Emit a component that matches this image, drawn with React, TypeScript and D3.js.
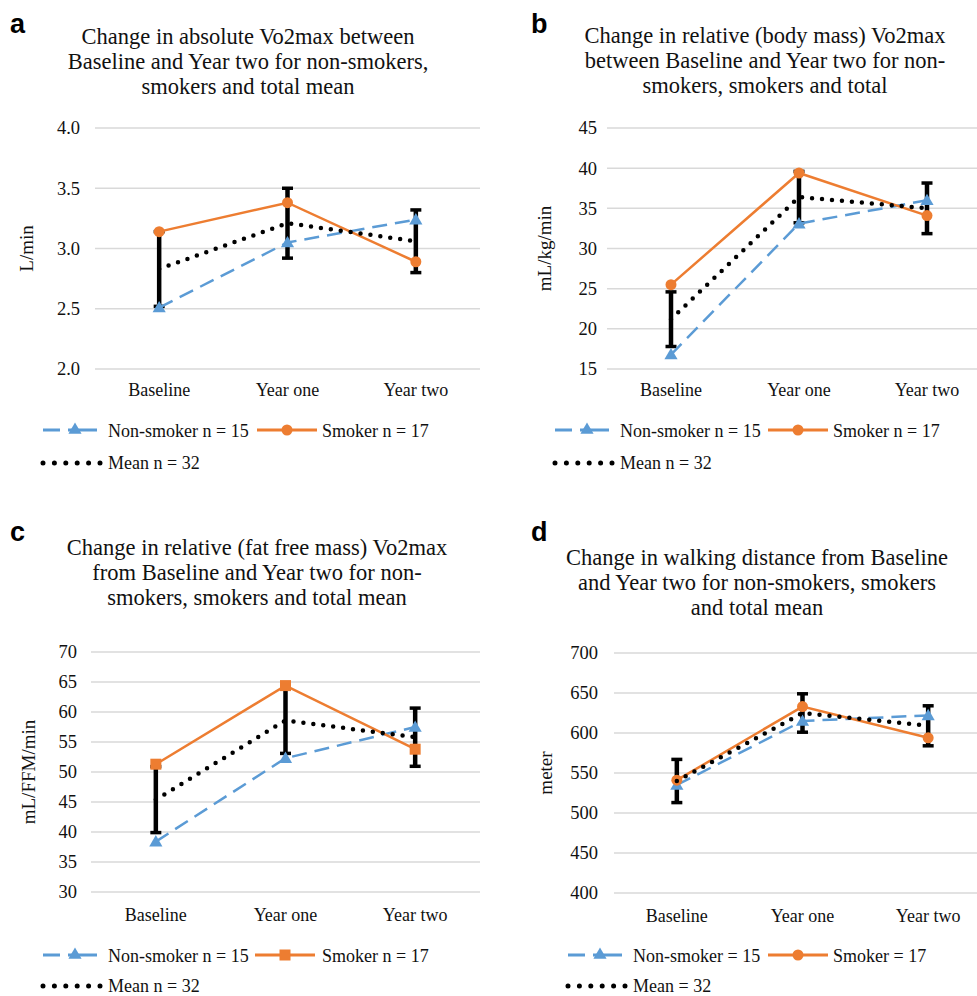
import React, { useEffect } from 'react';
import * as d3 from 'd3';

const categories = ['Baseline', 'Year one', 'Year two'];

// a: absolute Vo2max (L/min)
const absNonSmoker = [2.51, 3.05, 3.24];
const absSmoker = [3.14, 3.38, 2.89];
const absMean = [2.83, 3.21, 3.06];
const absErr = [0.31, 0.29, 0.26];

// b: relative (body mass) Vo2max (mL/kg/min)
const bmNonSmoker = [16.8, 33.1, 36.0];
const bmSmoker = [25.5, 39.4, 34.1];
const bmMean = [21.2, 36.4, 35.0];
const bmErr = [3.4, 3.2, 3.15];

// c: relative (fat free mass) Vo2max (mL/FFM/min)
const ffmNonSmoker = [38.4, 52.3, 57.5];
const ffmSmoker = [51.3, 64.4, 53.8];
const ffmMean = [45.4, 58.6, 55.8];
const ffmErr = [5.5, 5.5, 4.85];

// d: walking distance (meter)
const walkNonSmoker = [535, 615, 622];
const walkSmoker = [541, 633, 594];
const walkMean = [540, 625, 609];
const walkErr = [27, 24, 25];

const BLUE = '#5B9BD5';
const ORANGE = '#ED7D31';
const GRID = '#D9D9D9';
const SERIF = '"Liberation Serif", "Times New Roman", serif';

const panels = [
  {
    letter: 'a', lx: 10, ly: 33,
    title: ['Change in absolute Vo2max between', 'Baseline and Year two  for non-smokers,', 'smokers and total mean'],
    tx: 248, ty: 44,
    x0: 95, x1: 480, yTop: 128, yBot: 369, domain: [2, 4], step: 0.5, fmt: '.1f', tickRight: 80,
    yTitle: 'L/min', yTitleX: 33,
    catY: 396, legY: 430, legY2: 463, sym1: 43, txt1: 108, sym2: 257, txt2: 322,
    names: ['Non-smoker n = 15', 'Smoker n = 17', 'Mean n = 32'], square: false,
    non: absNonSmoker, smk: absSmoker, mean: absMean, err: absErr,
  },
  {
    letter: 'b', lx: 531, ly: 33,
    title: ['Change in relative (body mass) Vo2max', 'between Baseline and Year two for non-', 'smokers, smokers and total'],
    tx: 765, ty: 43,
    x0: 607, x1: 991, yTop: 128, yBot: 369, domain: [15, 45], step: 5, fmt: 'd', tickRight: 597,
    yTitle: 'mL/kg/min', yTitleX: 551,
    catY: 396, legY: 430, legY2: 463, sym1: 555, txt1: 620, sym2: 768, txt2: 833,
    names: ['Non-smoker n = 15', 'Smoker n = 17', 'Mean n = 32'], square: false,
    non: bmNonSmoker, smk: bmSmoker, mean: bmMean, err: bmErr,
  },
  {
    letter: 'c', lx: 10, ly: 541,
    title: ['Change in relative (fat free mass) Vo2max', 'from Baseline and Year two for non-', 'smokers, smokers and total mean'],
    tx: 257, ty: 555,
    x0: 91, x1: 480, yTop: 652, yBot: 892, domain: [30, 70], step: 5, fmt: 'd', tickRight: 77,
    yTitle: 'mL/FFM/min', yTitleX: 35,
    catY: 921, legY: 955, legY2: 986, sym1: 43, txt1: 108, sym2: 255, txt2: 322,
    names: ['Non-smoker n = 15', 'Smoker n = 17', 'Mean n = 32'], square: true,
    non: ffmNonSmoker, smk: ffmSmoker, mean: ffmMean, err: ffmErr,
  },
  {
    letter: 'd', lx: 531, ly: 541,
    title: ['Change in walking distance from Baseline', 'and Year two for non-smokers, smokers', 'and total mean'],
    tx: 757, ty: 565,
    x0: 614, x1: 991, yTop: 653, yBot: 893, domain: [400, 700], step: 50, fmt: 'd', tickRight: 598,
    yTitle: 'meter', yTitleX: 552,
    catY: 922, legY: 955, legY2: 986, sym1: 568, txt1: 633, sym2: 768, txt2: 833,
    names: ['Non-smoker = 15', 'Smoker = 17', 'Mean = 32'], square: false,
    non: walkNonSmoker, smk: walkSmoker, mean: walkMean, err: walkErr,
  },
];

const triangle = d3.symbol(d3.symbolTriangle, 75)();
const square = d3.symbol(d3.symbolSquare, 121)();

function Panel({ p }) {
  const x = d3.scaleBand().domain(categories).range([p.x0, p.x1]);
  const cx = (c) => x(c) + x.bandwidth() / 2;
  const y = d3.scaleLinear().domain(p.domain).range([p.yBot, p.yTop]);
  const ticks = d3.range(p.domain[0], p.domain[1] + p.step / 2, p.step);
  const fmt = d3.format(p.fmt);
  const line = d3.line().x((d, i) => cx(categories[i])).y((d) => y(d));

  const smokerMarker = (px, py, key) =>
    p.square ? (
      <path key={key} d={square} transform={`translate(${px},${py})`} fill={ORANGE} />
    ) : (
      <circle key={key} cx={px} cy={py} r={5.5} fill={ORANGE} />
    );

  return (
    <g>
      <text x={p.lx} y={p.ly} fontFamily='"Liberation Sans", Arial, sans-serif' fontWeight="bold" fontSize={27}>
        {p.letter}
      </text>
      {p.title.map((t, i) => (
        <text key={i} x={p.tx} y={p.ty + i * 25} textAnchor="middle" fontFamily={SERIF} fontSize={22.5} fill="#111">
          {t}
        </text>
      ))}

      {ticks.map((t) => (
        <g key={t}>
          <line x1={p.x0} x2={p.x1} y1={y(t)} y2={y(t)} stroke={GRID} strokeWidth={1.5} />
          <text x={p.tickRight} y={y(t)} dy="0.35em" textAnchor="end" fontFamily={SERIF} fontSize={18.5} fill="#111">
            {fmt(t)}
          </text>
        </g>
      ))}

      <text
        transform={`translate(${p.yTitleX},${(p.yTop + p.yBot) / 2}) rotate(-90)`}
        textAnchor="middle" fontFamily={SERIF} fontSize={19} fill="#111"
      >
        {p.yTitle}
      </text>

      {categories.map((c) => (
        <text key={c} x={cx(c)} y={p.catY} textAnchor="middle" fontFamily={SERIF} fontSize={18} fill="#111">
          {c}
        </text>
      ))}

      {/* error bars on the mean */}
      {p.mean.map((m, i) => {
        const px = cx(categories[i]);
        const top = y(m + p.err[i]);
        const bot = y(m - p.err[i]);
        return (
          <g key={i} stroke="#000">
            <line x1={px} x2={px} y1={top} y2={bot} strokeWidth={4.5} />
            <line x1={px - 5.5} x2={px + 5.5} y1={top} y2={top} strokeWidth={3.5} />
            <line x1={px - 5.5} x2={px + 5.5} y1={bot} y2={bot} strokeWidth={3.5} />
          </g>
        );
      })}

      <path d={line(p.non)} fill="none" stroke={BLUE} strokeWidth={2.5} strokeDasharray="15 8" />
      {p.non.map((v, i) => (
        <path key={i} d={triangle} transform={`translate(${cx(categories[i])},${y(v) + 1})`} fill={BLUE} />
      ))}

      <path d={line(p.smk)} fill="none" stroke={ORANGE} strokeWidth={2.5} />
      {p.smk.map((v, i) => smokerMarker(cx(categories[i]), y(v), i))}

      <path d={line(p.mean)} fill="none" stroke="#000" strokeWidth={4.5} strokeDasharray="0 10" strokeLinecap="round" />

      {/* legend */}
      <line x1={p.sym1} x2={p.sym1 + 54} y1={p.legY} y2={p.legY} stroke={BLUE} strokeWidth={3} strokeDasharray="17 8 40" />
      <path d={triangle} transform={`translate(${p.sym1 + 32},${p.legY})`} fill={BLUE} />
      <text x={p.txt1} y={p.legY + 7} fontFamily={SERIF} fontSize={18} fill="#111">{p.names[0]}</text>

      <line x1={p.sym2} x2={p.sym2 + 60} y1={p.legY} y2={p.legY} stroke={ORANGE} strokeWidth={3} />
      {smokerMarker(p.sym2 + 30, p.legY, 'leg')}
      <text x={p.txt2} y={p.legY + 7} fontFamily={SERIF} fontSize={18} fill="#111">{p.names[1]}</text>

      <line x1={p.sym1} x2={p.sym1 + 57} y1={p.legY2} y2={p.legY2} stroke="#000" strokeWidth={5} strokeDasharray="0 11.4" strokeLinecap="round" />
      <text x={p.txt1} y={p.legY2 + 6} fontFamily={SERIF} fontSize={18} fill="#111">{p.names[2]}</text>
    </g>
  );
}

export default function App() {
  useEffect(() => {
    document.body.style.margin = '0';
  }, []);

  return (
    <svg width={977} height={996} style={{ display: 'block', background: '#fff' }}>
      <rect width={977} height={996} fill="#fff" />
      {panels.map((p) => (
        <Panel key={p.letter} p={p} />
      ))}
    </svg>
  );
}
